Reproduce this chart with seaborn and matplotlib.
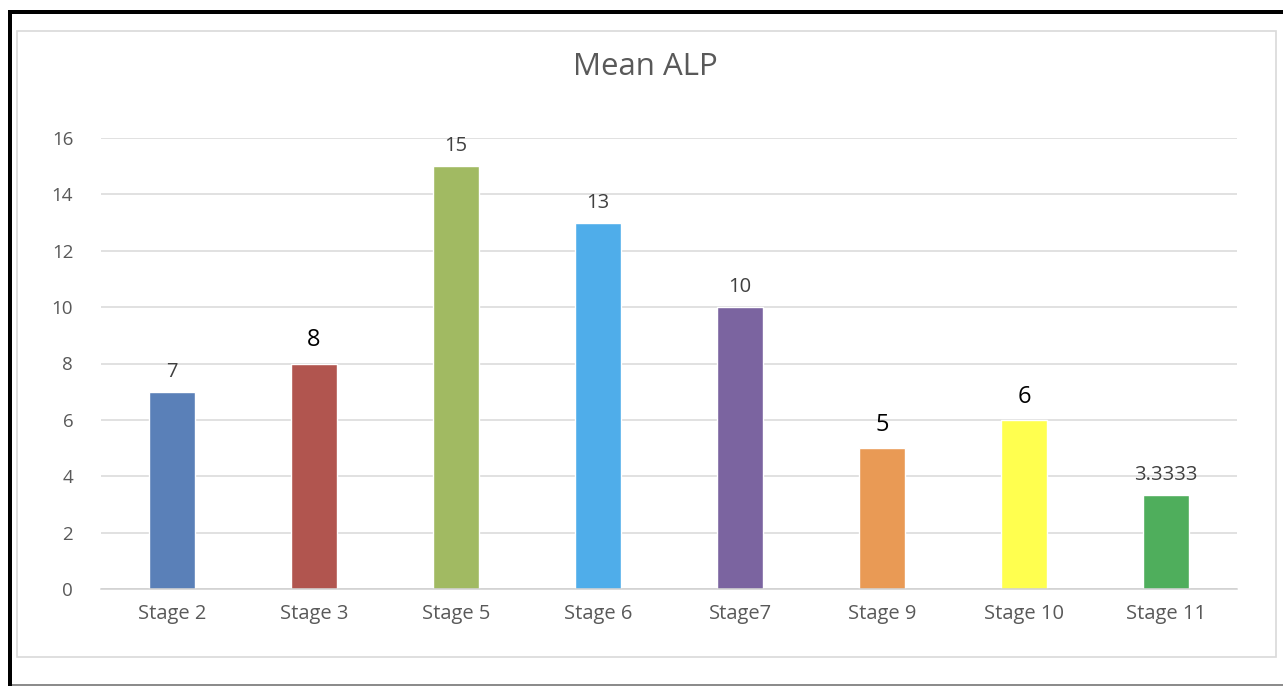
import matplotlib
matplotlib.use("Agg")
import matplotlib.pyplot as plt
from matplotlib.patches import Rectangle
import seaborn as sns
import pandas as pd

# Mean ALP by stage
stages = ["Stage 2", "Stage 3", "Stage 5", "Stage 6", "Stage7", "Stage 9", "Stage 10", "Stage 11"]
mean_alp = [7, 8, 15, 13, 10, 5, 6, 3.3333]
label_text = ["7", "8", "15", "13", "10", "5", "6", "3.3333"]
emphasised = [False, True, False, False, False, True, True, False]
bar_colors = ["#5A80B8", "#B1554F", "#A1BA62", "#4FADEA", "#7B64A0", "#E99A55", "#FFFF4F", "#4FAE5C"]

df = pd.DataFrame({"stage": stages, "value": mean_alp})

sns.set_theme(style="white")
plt.rcParams["font.family"] = ["Open Sans", "DejaVu Sans"]

fig = plt.figure(figsize=(12.83, 6.86), dpi=100)
fig.patch.set_facecolor("white")
W, H = 1283, 686

# outer black frame (left and top) and grey bottom line
fig.add_artist(Rectangle((8 / W, 0), 4 / W, (H - 10) / H, transform=fig.transFigure,
                         facecolor="black", edgecolor="none"))
fig.add_artist(Rectangle((8 / W, (H - 14) / H), (W - 8) / W, 4 / H, transform=fig.transFigure,
                         facecolor="black", edgecolor="none"))
fig.add_artist(Rectangle((12 / W, 0), (W - 12) / W, 2 / H, transform=fig.transFigure,
                         facecolor="#8C8C8C", edgecolor="none"))
# inner chart-area border
fig.add_artist(Rectangle((17 / W, (H - 657) / H), (1276 - 17) / W, (657 - 31) / H,
                         transform=fig.transFigure, facecolor="none",
                         edgecolor="#D9D9D9", linewidth=1.2))

ax = fig.add_axes([101 / W, 97 / H, 1136 / W, 451 / H])
sns.barplot(data=df, x="stage", y="value", hue="stage", palette=bar_colors,
            width=0.32, legend=False, ax=ax, saturation=1)

ax.set_ylim(0, 16)
ax.set_xlim(-0.5, len(stages) - 0.5)
ax.set_yticks(range(0, 17, 2))
ax.yaxis.grid(True, color="#D9D9D9", linewidth=1.1)
ax.set_axisbelow(True)
for s in ["top", "right", "left"]:
    ax.spines[s].set_visible(False)
ax.spines["bottom"].set_color("#D0D0D0")
ax.spines["bottom"].set_linewidth(1.1)
ax.tick_params(axis="y", length=0, colors="#595959", labelsize=13.5, pad=20)
ax.tick_params(axis="x", length=0, colors="#595959", labelsize=14.5, pad=11)
ax.set_xlabel("")
ax.set_ylabel("")

for i, (v, t, em) in enumerate(zip(mean_alp, label_text, emphasised)):
    if em:
        ax.annotate(t, (i, v), xytext=(0, 8), textcoords="offset points",
                    ha="center", va="bottom", fontsize=17, color="black")
    else:
        ax.annotate(t, (i, v), xytext=(0, 7), textcoords="offset points",
                    ha="center", va="bottom", fontsize=14.5, color="#404040")

fig.text(645 / W, (H - 67) / H, "Mean ALP", ha="center", va="center",
         fontsize=22.5, color="#595959")

fig.savefig("out.png", dpi=100)
